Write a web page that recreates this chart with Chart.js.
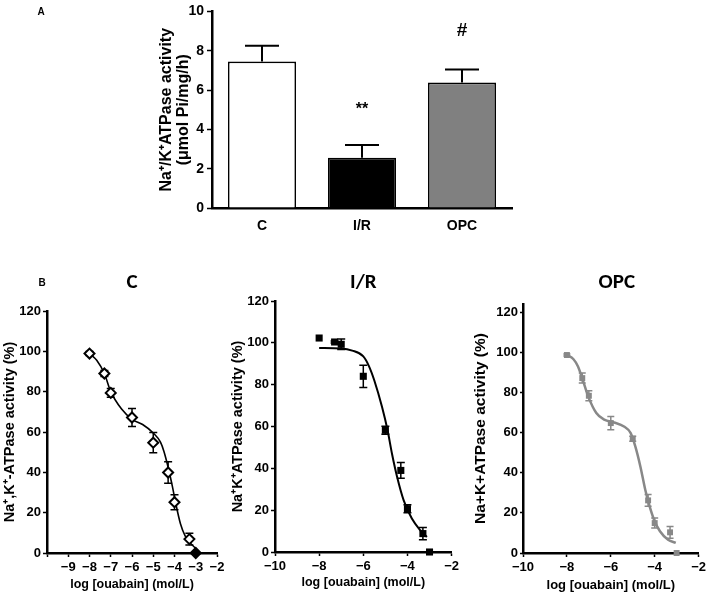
<!DOCTYPE html>
<html>
<head>
<meta charset="utf-8">
<script src="https://cdn.jsdelivr.net/npm/chart.js@4.4.1/dist/chart.umd.min.js"></script>
<style>
  html, body { margin: 0; padding: 0; background: #fff; }
  body { width: 709px; height: 596px; position: relative; overflow: hidden; }
  canvas { position: absolute; }
</style>
</head>
<body>
<canvas id="cA" width="709" height="245" style="left:0;top:0"></canvas>
<canvas id="cC" width="230" height="334" style="left:0;top:262px"></canvas>
<canvas id="cIR" width="232" height="334" style="left:230px;top:262px"></canvas>
<canvas id="cOPC" width="247" height="334" style="left:462px;top:262px"></canvas>
<script>
// ---------------- DATA ----------------
// Panel A
const barCategories = ['C', 'I/R', 'OPC'];
const barValues = [7.45, 2.55, 6.38];
const barErrors = [0.8, 0.65, 0.67];
const barMarks = ['', '**', '#'];
const barMarkValues = [null, 5.0, 9.0];
const barTicksA = [0, 2, 4, 6, 8, 10];

// Panel B (log concentration of ouabain)
const logDose = [-8, -7.3, -7, -6, -5, -4.3, -4, -3.3, -3];
const cValues = [98.9, 89.0, 79.4, 67.2, 54.7, 39.9, 25.2, 6.9, 0];
const cErrors = [1.0, 1.5, 2.2, 4.5, 5.0, 5.3, 3.7, 2.9, 0];
const irValues = [102.3, 100.4, 99.3, 84.0, 58.2, 39.0, 20.7, 8.8, 0];
const irErrors = [0, 0.5, 2.5, 5.3, 1.9, 3.8, 1.9, 2.9, 0];
const opcValues = [98.6, 87.1, 78.3, 64.7, 56.9, 26.2, 14.9, 10.3, 0];
const opcErrors = [0.5, 2.5, 2.5, 3.3, 1.3, 2.9, 2.5, 2.9, 0];

// Fitted curves
const cFitX = [-8, -7.66, -7.3, -7, -6.5, -6, -5.5, -5, -4.66, -4.5, -4.3, -4.1, -3.95, -3.72, -3.5, -3.25, -3];
const cFitY = [98.9, 95.6, 89, 80, 71.5, 66.3, 63.7, 59.5, 55, 50.5, 42.5, 33, 25, 14.5, 8.5, 4.8, 2.3];
const irFitX = [-8, -7, -6.5, -6, -5.75, -5.5, -5.15, -4.9, -4.7, -4.47, -4.17, -3.8, -3.42, -3.12];
const irFitY = [97.5, 97.3, 96.3, 93.5, 89, 82, 69.3, 58.2, 47, 36, 24.7, 16, 10.4, 7.2];
const opcFitX = [-8, -7.7, -7.5, -7.3, -7.03, -6.66, -6.3, -5.85, -5.4, -5.1, -4.88, -4.65, -4.43, -4.23, -4.03, -3.76, -3.39, -3.04];
const opcFitY = [98.6, 96.5, 93, 87, 78, 69.7, 66.4, 65, 63, 59.8, 53, 43, 31.5, 23.2, 16.6, 10.8, 6.6, 5];

// ---------------- STYLE ----------------
const NARROW = "'Liberation Sans Narrow', 'Arial Narrow', 'Liberation Sans', Arial, sans-serif";
const SANS = "'Liberation Sans', Arial, sans-serif";
const TITLEF = "Carlito, Calibri, 'Open Sans', 'Noto Sans', sans-serif";
const GRAY = '#888888';

function layoutFor(cw, ch, area, yTitleX, yLineH, xTitleY, xLineH) {
  const padLeft = yTitleX - yLineH / 2;
  const padBottom = xTitleY == null ? 0 : ch - xTitleY - xLineH / 2;
  return {
    padding: { left: padLeft, top: area.t, right: cw - area.r, bottom: padBottom },
    yWidth: area.l - padLeft,
    xHeight: (ch - padBottom) - area.b
  };
}

function errorBarPlugin(cfg) {
  return {
    id: 'errorBars' + cfg.key,
    [cfg.hook]: (chart) => {
      const ctx = chart.ctx;
      const xs = chart.scales.x, ys = chart.scales.y;
      ctx.save();
      ctx.strokeStyle = cfg.color;
      ctx.lineWidth = cfg.lineWidth;
      cfg.values.forEach((v, i) => {
        const e = cfg.errors[i];
        if (!e) return;
        const px = cfg.xs ? xs.getPixelForValue(cfg.xs[i]) : xs.getPixelForValue(i);
        const yHi = ys.getPixelForValue(v + e);
        const yLo = cfg.upperOnly ? ys.getPixelForValue(v) : ys.getPixelForValue(v - e);
        const hw = cfg.capWidth / 2;
        ctx.beginPath();
        ctx.moveTo(px, yLo); ctx.lineTo(px, yHi);
        ctx.moveTo(px - hw, yHi); ctx.lineTo(px + hw, yHi);
        if (!cfg.upperOnly) { ctx.moveTo(px - hw, yLo); ctx.lineTo(px + hw, yLo); }
        ctx.stroke();
      });
      ctx.restore();
    }
  };
}

function textPlugin(key, items) {
  return {
    id: 'texts' + key,
    afterDraw: (chart) => {
      const ctx = chart.ctx;
      ctx.save();
      items.forEach(it => {
        ctx.font = it.font;
        ctx.fillStyle = it.color || '#000';
        ctx.textAlign = it.align || 'center';
        ctx.textBaseline = 'middle';
        const x = typeof it.x === 'function' ? it.x(chart) : it.x;
        const y = typeof it.y === 'function' ? it.y(chart) : it.y;
        ctx.fillText(it.text, x, y);
      });
      ctx.restore();
    }
  };
}

Chart.defaults.font.family = NARROW;
Chart.defaults.color = '#000';

// ---------------- PANEL A ----------------
(function () {
  const cw = 709, ch = 245;
  const tSize = 16, tLH = 1.05;
  const L = layoutFor(cw, ch, { l: 212, r: 512, t: 10, b: 208 }, 167, tSize * tLH, null, 0);
  new Chart(document.getElementById('cA'), {
    type: 'bar',
    data: {
      labels: barCategories,
      datasets: [{
        data: barValues,
        backgroundColor: ['#ffffff', '#000000', '#808080'],
        borderColor: '#000',
        borderWidth: 1.6,
        barPercentage: 0.68,
        categoryPercentage: 1.0
      }]
    },
    options: {
      responsive: false, animation: false, devicePixelRatio: 1,
      layout: { padding: L.padding },
      plugins: { legend: { display: false }, tooltip: { enabled: false } },
      scales: {
        x: {
          afterFit: s => { s.height = L.xHeight; },
          grid: { display: true, drawOnChartArea: false, drawTicks: false },
          border: { display: true, color: '#000', width: 2.5 },
          ticks: { padding: 10, font: { size: 14, weight: 'bold', family: NARROW }, color: '#000' }
        },
        y: {
          min: 0, max: 10,
          afterFit: s => { s.width = L.yWidth; },
          afterBuildTicks: s => { s.ticks = barTicksA.map(v => ({ value: v })); },
          grid: { drawOnChartArea: false, drawTicks: true, tickLength: 5, tickColor: '#000', tickWidth: 1.5 },
          border: { display: true, color: '#000', width: 2.5 },
          ticks: { padding: 3, font: { size: 14, weight: 'bold', family: NARROW }, color: '#000' },
          title: {
            display: true, padding: 0,
            text: ['Na\u207A/K\u207AATPase activity', '(\u03BCmol Pi/mg/h)'],
            font: { size: tSize, weight: 'bold', family: SANS, lineHeight: tLH }, color: '#000'
          }
        }
      }
    },
    plugins: [
      errorBarPlugin({ key: 'A', hook: 'afterDatasetsDraw', values: barValues, errors: barErrors, capWidth: 34, lineWidth: 2, color: '#000', upperOnly: true }),
      {
        id: 'marksA',
        afterDatasetsDraw: (chart) => {
          const ctx = chart.ctx;
          ctx.save();
          ctx.fillStyle = '#000';
          ctx.textAlign = 'center';
          ctx.textBaseline = 'middle';
          barMarks.forEach((m, i) => {
            if (!m) return;
            ctx.font = (m === '#' ? 'bold 19px ' : 'bold 16px ') + SANS;
            ctx.fillText(m, chart.scales.x.getPixelForValue(i), chart.scales.y.getPixelForValue(barMarkValues[i]));
          });
          ctx.restore();
        }
      },
      textPlugin('A', [{ text: 'A', x: 41, y: 12, font: 'bold 10px ' + SANS }])
    ]
  });
})();

// ---------------- PANEL B ----------------
function doseChart(opts) {
  const yLH = opts.yTitleSize * 1.2, xLH = opts.xTitleSize * 1.2;
  const L = layoutFor(opts.cw, opts.ch, opts.area, opts.yTitleX, yLH, opts.xTitleY, xLH);
  const pts = logDose.map((x, i) => ({ x: x, y: opts.values[i] }));
  const fit = opts.fitX.map((x, i) => ({ x: x, y: opts.fitY[i] }));
  return new Chart(document.getElementById(opts.id), {
    type: 'scatter',
    data: {
      datasets: [
        {
          data: pts,
          pointStyle: opts.pointStyle,
          pointRadius: opts.pointRadius,
          pointBackgroundColor: opts.pointFill,
          pointBorderColor: opts.pointBorder,
          pointBorderWidth: opts.pointBorderWidth,
          showLine: false,
          clip: false
        },
        {
          data: fit,
          showLine: true,
          pointRadius: 0,
          borderColor: opts.lineColor,
          borderWidth: opts.lineWidth,
          cubicInterpolationMode: 'monotone',
          fill: false,
          clip: false
        }
      ]
    },
    options: {
      responsive: false, animation: false, devicePixelRatio: 1,
      layout: { padding: L.padding },
      plugins: { legend: { display: false }, tooltip: { enabled: false } },
      scales: {
        x: {
          type: 'linear', min: -10, max: -2,
          afterFit: s => { s.height = L.xHeight; },
          afterBuildTicks: s => { s.ticks = opts.xTicks.map(v => ({ value: v })); },
          grid: { drawOnChartArea: false, drawTicks: true, tickLength: 4, tickColor: '#000', tickWidth: 1.5 },
          border: { display: true, color: '#000', width: 2.5 },
          ticks: {
            padding: 3, font: { size: 13, weight: 'bold', family: NARROW }, color: '#000',
            callback: v => (opts.hideFirst && v === -10) ? '' : (v < 0 ? '\u2212' + Math.abs(v) : String(v))
          },
          title: {
            display: true, padding: 0, text: 'log [ouabain] (mol/L)',
            font: { size: opts.xTitleSize, weight: 'bold', family: SANS, lineHeight: 1.2 }, color: '#000'
          }
        },
        y: {
          min: 0, max: opts.yMax,
          afterFit: s => { s.width = L.yWidth; },
          afterBuildTicks: s => { s.ticks = [0, 20, 40, 60, 80, 100, 120].map(v => ({ value: v })); },
          grid: { drawOnChartArea: false, drawTicks: true, tickLength: opts.yTickLen, tickColor: '#000', tickWidth: 1.5 },
          border: { display: true, color: '#000', width: 2.5 },
          ticks: { padding: 2, font: { size: 13, weight: 'bold', family: NARROW }, color: '#000' },
          title: {
            display: true, padding: 0, text: opts.yTitle,
            font: { size: opts.yTitleSize, weight: 'bold', family: SANS, lineHeight: 1.2 }, color: '#000'
          }
        }
      }
    },
    plugins: [
      errorBarPlugin({ key: opts.id, hook: 'beforeDatasetsDraw', values: opts.values, errors: opts.errors, xs: logDose, capWidth: opts.capWidth, lineWidth: 1.5, color: opts.errColor, upperOnly: false }),
      textPlugin(opts.id, opts.texts)
    ]
  });
}

doseChart({
  id: 'cC', cw: 230, ch: 334, area: { l: 47, r: 217, t: 49, b: 291 },
  yTitleX: 10, xTitleY: 323, yTitleSize: 14.5, xTitleSize: 12.5, yMax: 120, yTickLen: 4, hideFirst: true,
  xTicks: [-10, -9, -8, -7, -6, -5, -4, -3, -2],
  values: cValues, errors: cErrors, fitX: cFitX, fitY: cFitY,
  pointStyle: 'rectRot', pointRadius: 5,
  pointFill: cValues.map(v => v === 0 ? '#000' : '#ffffff'), pointBorder: '#000', pointBorderWidth: 2,
  lineColor: '#000', lineWidth: 1.6, capWidth: 8, errColor: '#000',
  yTitle: 'Na\u207A,K\u207A-ATPase activity (%)',
  texts: [
    { text: 'C', x: c => (c.chartArea.left + c.chartArea.right) / 2, y: 21, font: 'bold 21px ' + TITLEF },
    { text: 'B', x: 42, y: 21, font: 'bold 10px ' + SANS }
  ]
});

doseChart({
  id: 'cIR', cw: 232, ch: 334, area: { l: 45, r: 223, t: 39, b: 290 },
  yTitleX: 8, xTitleY: 321, yTitleSize: 14.5, xTitleSize: 12.5, yMax: 120, yTickLen: 4, hideFirst: false,
  xTicks: [-10, -8, -6, -4, -2],
  values: irValues, errors: irErrors, fitX: irFitX, fitY: irFitY,
  pointStyle: 'rect', pointRadius: 5, pointFill: '#000', pointBorder: '#000', pointBorderWidth: 0,
  lineColor: '#000', lineWidth: 2, capWidth: 8, errColor: '#000',
  yTitle: 'Na\u207AK\u207AATPase activity (%)',
  texts: [
    { text: 'I/R', x: c => (c.chartArea.left + c.chartArea.right) / 2, y: 21, font: 'bold 21px ' + TITLEF }
  ]
});

doseChart({
  id: 'cOPC', cw: 247, ch: 334, area: { l: 61, r: 239, t: 42, b: 291 },
  yTitleX: 19, xTitleY: 323, yTitleSize: 15.5, xTitleSize: 13, yMax: 124, yTickLen: 3, hideFirst: false,
  xTicks: [-10, -8, -6, -4, -2],
  values: opcValues, errors: opcErrors, fitX: opcFitX, fitY: opcFitY,
  pointStyle: 'rect', pointRadius: 4.2, pointFill: GRAY, pointBorder: GRAY, pointBorderWidth: 0,
  lineColor: GRAY, lineWidth: 2.5, capWidth: 7, errColor: GRAY,
  yTitle: 'Na+K+ATPase activity (%)',
  texts: [
    { text: 'OPC', x: c => (c.chartArea.left + c.chartArea.right) / 2 + 6, y: 21, font: 'bold 21px ' + TITLEF }
  ]
});
</script>
</body>
</html>
